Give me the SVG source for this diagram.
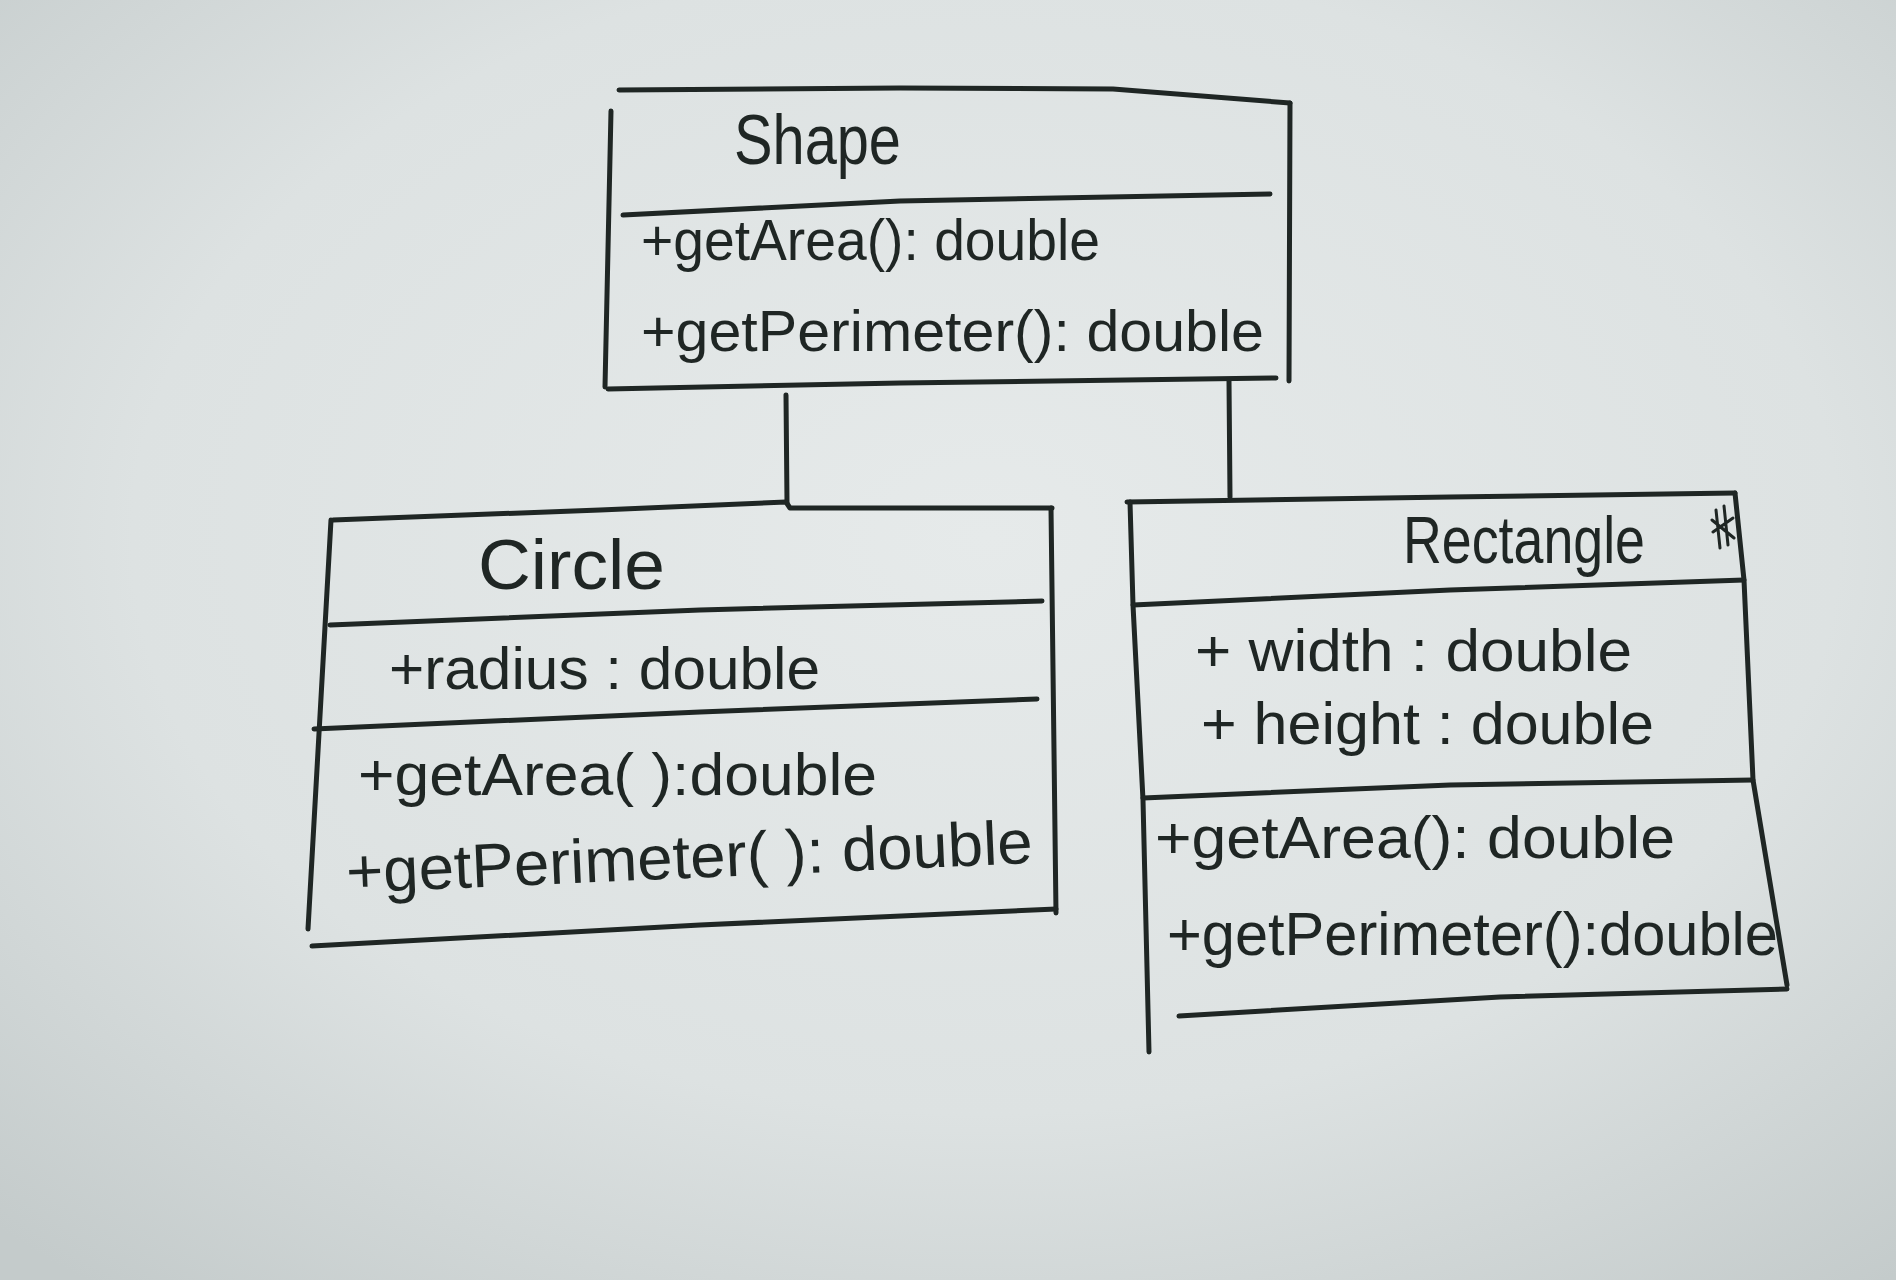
<svg xmlns="http://www.w3.org/2000/svg" width="1896" height="1280" viewBox="0 0 1896 1280">
<defs>
<radialGradient id="bg" cx="0.52" cy="0.42" r="0.75">
<stop offset="0" stop-color="#e6eaea"/>
<stop offset="0.6" stop-color="#dde2e2"/>
<stop offset="1" stop-color="#c4cbcb"/>
</radialGradient>
<style>
.ink{fill:none;stroke:#1f2624;stroke-width:5;stroke-linecap:round;stroke-linejoin:round}
.t{font-family:"Liberation Sans","DejaVu Sans",sans-serif;fill:#1f2624;font-weight:normal}
</style>
</defs>
<rect x="0" y="0" width="1896" height="1280" fill="url(#bg)"/>

<g id="connectors">
<path class="ink" d="M786 395 L787 503"/>
<path class="ink" d="M1229 381 L1230 497"/>
</g>

<g id="shape">
<path class="ink" d="M619 90 L900 88 L1113 89 L1290 103"/>
<path class="ink" d="M611 111 L605 387"/>
<path class="ink" d="M1290 103 L1289 381"/>
<path class="ink" d="M623 215 L900 201 L1270 194"/>
<path class="ink" d="M608 389 L900 383 L1276 378"/>
<text class="t" x="734" y="164" font-size="70" textLength="167" lengthAdjust="spacingAndGlyphs">Shape</text>
<text class="t" x="641" y="260" font-size="58" textLength="459" lengthAdjust="spacingAndGlyphs">+getArea(): double</text>
<text class="t" x="641" y="351" font-size="58" textLength="623" lengthAdjust="spacingAndGlyphs">+getPerimeter(): double</text>
</g>

<g id="circle">
<path class="ink" d="M333 520 L600 510 L786 502 L790 508 L1052 508"/>
<path class="ink" d="M331 520 L308 929"/>
<path class="ink" d="M1051 508 L1056 913"/>
<path class="ink" d="M330 625 L700 610 L1042 601"/>
<path class="ink" d="M314 729 L700 712 L1037 699"/>
<path class="ink" d="M312 946 L700 925 L1056 909"/>
<text class="t" x="478" y="589" font-size="70" textLength="187" lengthAdjust="spacingAndGlyphs">Circle</text>
<text class="t" x="389" y="689" font-size="60" textLength="431" lengthAdjust="spacingAndGlyphs">+radius : double</text>
<text class="t" x="358" y="795" font-size="60" textLength="519" lengthAdjust="spacingAndGlyphs">+getArea( ):double</text>
<text class="t" x="347" y="893" font-size="62" textLength="687" lengthAdjust="spacingAndGlyphs" transform="rotate(-2.5 347 893)">+getPerimeter( ): double</text>
</g>

<g id="rectangle">
<path class="ink" d="M1127 502 L1450 497 L1735 493"/>
<path class="ink" d="M1130 502 L1133 605 L1143 800 L1149 1052"/>
<path class="ink" d="M1735 493 L1744 580 L1753 780 L1787 985"/>
<path class="ink" d="M1133 605 L1450 590 L1744 580"/>
<path class="ink" d="M1143 798 L1450 785 L1753 780"/>
<path class="ink" d="M1179 1016 L1500 997 L1787 989"/>
<path class="ink" d="M1716 510 L1720 548 M1724 506 L1728 545 M1712 520 L1734 538 M1713 532 L1733 518" style="stroke-width:3"/>
<text class="t" x="1403" y="563" font-size="66" textLength="242" lengthAdjust="spacingAndGlyphs">Rectangle</text>
<text class="t" x="1195" y="671" font-size="60" textLength="437" lengthAdjust="spacingAndGlyphs">+ width : double</text>
<text class="t" x="1201" y="744" font-size="60" textLength="453" lengthAdjust="spacingAndGlyphs">+ height : double</text>
<text class="t" x="1155" y="858" font-size="60" textLength="520" lengthAdjust="spacingAndGlyphs">+getArea(): double</text>
<text class="t" x="1167" y="955" font-size="62" textLength="611" lengthAdjust="spacingAndGlyphs">+getPerimeter():double</text>
</g>
</svg>
